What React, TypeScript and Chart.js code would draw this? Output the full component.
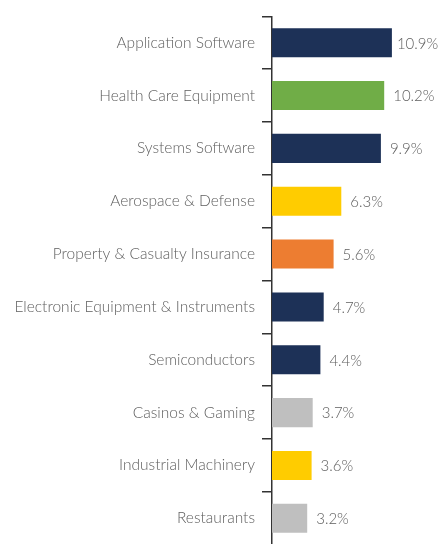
import React, { useEffect, useRef } from "react";
import { Chart, registerables } from "chart.js";

Chart.register(...registerables);

const categories = [
  "Application Software",
  "Health Care Equipment",
  "Systems Software",
  "Aerospace & Defense",
  "Property & Casualty Insurance",
  "Electronic Equipment & Instruments",
  "Semiconductors",
  "Casinos & Gaming",
  "Industrial Machinery",
  "Restaurants",
];
const values = [10.9, 10.2, 9.9, 6.3, 5.6, 4.7, 4.4, 3.7, 3.6, 3.2];
const valueLabels = ["10.9%", "10.2%", "9.9%", "6.3%", "5.6%", "4.7%", "4.4%", "3.7%", "3.6%", "3.2%"];
const NAVY = "#1d3157";
const GREEN = "#70ad47";
const YELLOW = "#ffcc00";
const ORANGE = "#ed7d31";
const GRAY = "#bfbfbf";
const barColors = [NAVY, GREEN, NAVY, YELLOW, ORANGE, NAVY, NAVY, GRAY, YELLOW, GRAY];

const FONT = "Lato, 'Open Sans', sans-serif";
const CANVAS_H = 561;

const valueLabelPlugin = {
  id: "valueLabels",
  afterDatasetsDraw(chart: any) {
    const ctx = chart.ctx;
    const meta = chart.getDatasetMeta(0);
    ctx.save();
    ctx.font = `300 15px ${FONT}`;
    ctx.fillStyle = "#606060";
    ctx.textBaseline = "middle";
    ctx.textAlign = "left";
    meta.data.forEach((bar: any, i: number) => {
      const text = valueLabels[i];
      const w = ctx.measureText(text).width;
      let x = bar.x + 9;
      if (x + w > chart.width) x = Math.max(bar.x + 5, chart.width - w);
      ctx.fillText(text, x, bar.y + 1);
    });
    ctx.restore();
  },
};

export default function App() {
  const ref = useRef<HTMLCanvasElement>(null);
  useEffect(() => {
    const chart = new Chart(ref.current!, {
      type: "bar",
      data: {
        labels: categories,
        datasets: [
          {
            data: values,
            backgroundColor: barColors,
            borderWidth: 0,
            categoryPercentage: 1,
            barPercentage: 0.55,
          },
        ],
      },
      options: {
        indexAxis: "y",
        animation: false,
        responsive: false,
        maintainAspectRatio: false,
        layout: { padding: { top: 14, bottom: 0, left: 0, right: 1 } },
        plugins: { legend: { display: false }, tooltip: { enabled: false } },
        scales: {
          x: { display: false, min: 0, max: 15 },
          y: {
            afterFit(scale: any) {
              scale.width = 272;
            },
            grid: {
              offset: true,
              drawOnChartArea: false,
              drawTicks: true,
              tickLength: 10,
              color: "#333",
              lineWidth: 1.5,
            },
            border: { display: true, color: "#333", width: 1.5 },
            ticks: {
              padding: 7,
              color: "#606060",
              font: { family: FONT, size: 15.5, weight: "300" },
            },
          },
        },
      },
      plugins: [valueLabelPlugin],
    });
    return () => chart.destroy();
  }, []);
  return (
    <div style={{ position: "absolute", left: 0, top: 0, width: 438, height: 544, overflow: "hidden" }}>
      <canvas ref={ref} width={438} height={CANVAS_H} style={{ width: 438, height: CANVAS_H }} />
    </div>
  );
}
